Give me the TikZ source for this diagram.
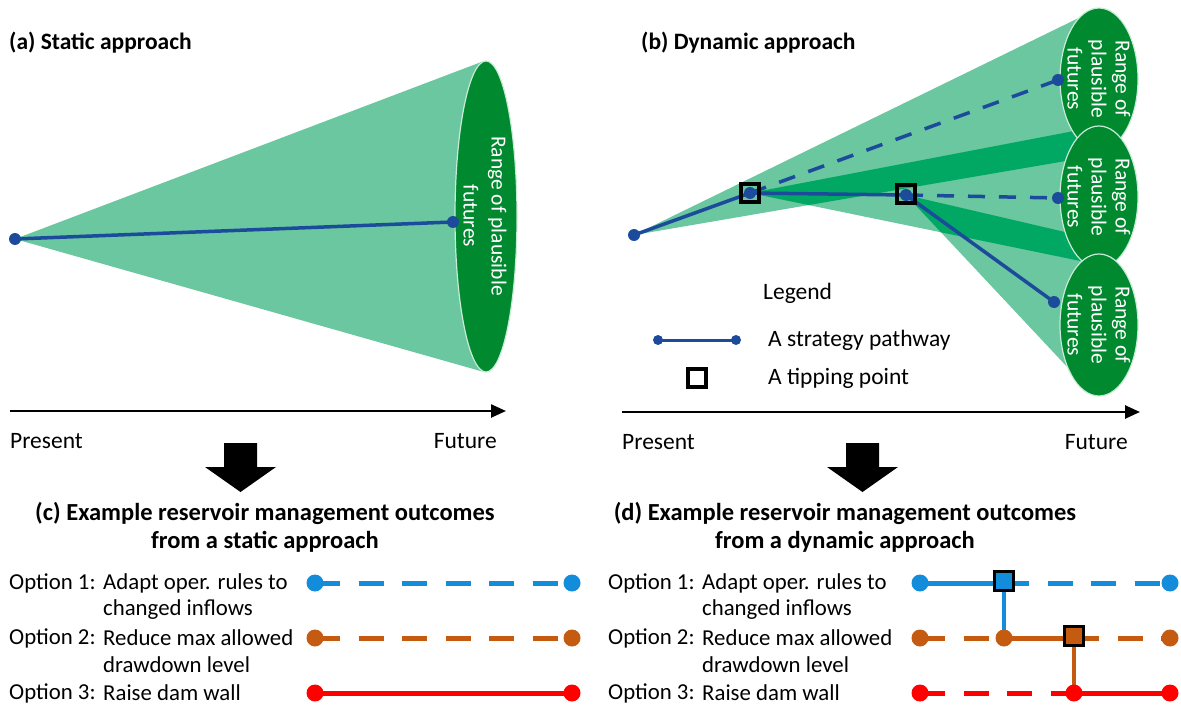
\documentclass[tikz,border=0pt]{standalone}
\usepackage{fontspec}
\setmainfont{Carlito}
\usetikzlibrary{arrows.meta}
\definecolor{conegreen}{RGB}{106,199,160}
\definecolor{overgreen}{RGB}{0,168,100}
\definecolor{ellgreen}{RGB}{0,137,46}
\definecolor{ellrim}{RGB}{200,235,215}
\definecolor{pathblue}{RGB}{28,75,155}
\definecolor{optblue}{RGB}{20,140,220}
\definecolor{optorange}{RGB}{197,90,17}
\definecolor{optred}{RGB}{255,0,0}
\pgfdeclarelayer{back}
\pgfdeclarelayer{mid}
\pgfsetlayers{back,mid,main}
\begin{document}
\begin{tikzpicture}[x=1pt,y=-1pt,
  body/.style={font=\fontsize{23.5}{27}\selectfont, inner sep=0pt},
  opt/.style={font=\fontsize{22.8}{27}\selectfont, inner sep=0pt, anchor=west},
  ttl/.style={font=\fontsize{23.5}{28}\selectfont\bfseries, inner sep=0pt, align=center},
  ttlc/.style={font=\fontsize{24.5}{28}\selectfont\bfseries, inner sep=0pt, align=center},
  elltext/.style={font=\fontsize{21.5}{#1}\selectfont, text=white, align=center, rotate=-90, inner sep=0pt},
  ellfill/.style={fill=ellgreen, draw=ellrim, line width=1.2pt},
  bdot/.style={circle, fill=pathblue, inner sep=0pt, minimum size=12pt},
  bpath/.style={draw=pathblue, line width=3.5pt},
  bdash/.style={bpath, dash pattern=on 17pt off 14pt},
  tipbox/.style={draw=black, line width=4pt, minimum size=18pt, inner sep=0pt},
  odot/.style={circle, fill=#1, inner sep=0pt, minimum size=17pt},
  osq/.style={draw=black, fill=#1, line width=3pt, minimum size=19pt, inner sep=0pt},
  oline/.style={draw=#1, line width=5pt},
  odash/.style={dash pattern=on 25pt off 18.5pt},
  axis/.style={draw=black, line width=2.5pt, -{Triangle[length=15pt,width=13pt]}},
  bigarrow/.style={fill=black}
]
\useasboundingbox (0,0) rectangle (1181,706);

% ---------------- (a) static ----------------
\begin{pgfonlayer}{back}
\fill[conegreen] (15,239) -- (484,61) -- (484,372) -- cycle;
\path[ellfill] (486,216.5) ellipse [x radius=31, y radius=155.5];
\end{pgfonlayer}
\node[elltext=28] (ea) at (485,216) {Range of plausible\\futures};
\node[ttl, anchor=west] (ta) at (9,43) {(a) Static approach};
\node[bdot] (a0) at (15,239) {};
\node[bdot] (a1) at (453,222) {};
\begin{pgfonlayer}{mid}
\draw[bpath] (a0.center) -- (a1.center);
\end{pgfonlayer}

% axis (a)
\coordinate (ax0) at (10,411);
\coordinate (ax1) at (506,411);
\draw[axis] (ax0) -- (ax1);
\node[body, anchor=west] (pa) at (10,441) {Present};
\node[body, anchor=east] (fa) at (497,441) {Future};

% ---------------- (b) dynamic ----------------
\begin{pgfonlayer}{back}
\fill[conegreen] (634,235) -- (1095,10) -- (1095,156) -- cycle;
\fill[conegreen] (750,193) -- (1095,127) -- (1095,264) -- cycle;
\fill[conegreen] (906,195) -- (1095,239) -- (1085,386) -- cycle;
\begin{scope}
\clip (634,235) -- (1095,10) -- (1095,156) -- cycle;
\fill[overgreen] (750,193) -- (1095,127) -- (1095,264) -- cycle;
\end{scope}
\begin{scope}
\clip (750,193) -- (1095,127) -- (1095,264) -- cycle;
\fill[overgreen] (906,195) -- (1095,239) -- (1085,386) -- cycle;
\end{scope}
\path[ellfill] (1099,79) ellipse [x radius=39, y radius=71];
\path[ellfill] (1099,197) ellipse [x radius=39, y radius=71];
\path[ellfill] (1099,325) ellipse [x radius=39, y radius=71];
\end{pgfonlayer}
\node[elltext=24] (e1) at (1099,79) {Range of\\plausible\\futures};
\node[elltext=24] (e2) at (1099,197) {Range of\\plausible\\futures};
\node[elltext=24] (e3) at (1099,325) {Range of\\plausible\\futures};

\node[ttl, anchor=west] (tb) at (641,43) {(b) Dynamic approach};

\node[bdot] (p0) at (634,235) {};
\node[bdot] (p1) at (750,193) {};
\node[bdot] (p2) at (906,195) {};
\node[bdot] (p3) at (1058,80) {};
\node[bdot] (p4) at (1058,198) {};
\node[bdot] (p5) at (1054,302) {};
\begin{pgfonlayer}{mid}
\draw[bpath] (p0.center) -- (p1.center);
\draw[bpath] (p1.center) -- (p2.center);
\draw[bdash] (p1.center) -- (p3.center);
\draw[bdash] (p2.center) -- (p4.center);
\draw[bpath] (p2.center) -- (p5.center);
\end{pgfonlayer}
\node[tipbox] (tp1) at (750,193) {};
\node[tipbox] (tp2) at (906,194) {};

% legend
\node[body, anchor=west] (lg) at (763,293) {Legend};
\node[bdot, minimum size=10pt] (l1) at (658,340) {};
\node[bdot, minimum size=10pt] (l2) at (736,340) {};
\begin{pgfonlayer}{mid}
\draw[bpath, line width=3pt] (l1.center) -- (l2.center);
\end{pgfonlayer}
\node[body, anchor=west] (lt1) at (768,340) {A strategy pathway};
\node[tipbox] (lsq) at (697,378) {};
\node[body, anchor=west] (lt2) at (768,378) {A tipping point};

% axis (b)
\coordinate (bx0) at (622,412);
\coordinate (bx1) at (1140,412);
\draw[axis] (bx0) -- (bx1);
\node[body, anchor=west] (pb) at (622,442) {Present};
\node[body, anchor=east] (fb) at (1128,442) {Future};

% ---------------- big arrows ----------------
\fill[bigarrow] (224,443) -- (257,443) -- (257,467) -- (276,467) -- (240.5,492) -- (205,467) -- (224,467) -- cycle;
\fill[bigarrow] (846,443) -- (879,443) -- (879,467) -- (898,467) -- (862.5,492) -- (827,467) -- (846,467) -- cycle;

% ---------------- (c) ----------------
\node[ttlc] (tc) at (265,527) {(c) Example reservoir management outcomes\\from a static approach};
\node[opt] (c1l) at (9,583) {Option 1:};
\node[opt] (c1t) at (103,583) {Adapt oper. rules to};
\node[opt] (c1u) at (103,610) {changed inflows};
\node[opt] (c2l) at (9,638) {Option 2:};
\node[opt] (c2t) at (103,638) {Reduce max allowed};
\node[opt] (c2u) at (103,665) {drawdown level};
\node[opt] (c3l) at (9,693) {Option 3:};
\node[opt] (c3t) at (103,693) {Raise dam wall};

\node[odot=optblue] (c1a) at (315,583) {};
\node[odot=optblue] (c1b) at (572,583) {};
\node[odot=optorange] (c2a) at (315,638) {};
\node[odot=optorange] (c2b) at (572,638) {};
\node[odot=optred] (c3a) at (315,693) {};
\node[odot=optred] (c3b) at (572,693) {};
\begin{pgfonlayer}{mid}
\draw[oline=optblue, odash] (c1a.center) -- (c1b.center);
\draw[oline=optorange, odash] (c2a.center) -- (c2b.center);
\draw[oline=optred] (c3a.center) -- (c3b.center);
\end{pgfonlayer}

% ---------------- (d) ----------------
\node[ttlc] (td) at (845,527) {(d) Example reservoir management outcomes\\from a dynamic approach};
\node[opt] (d1l) at (608,583) {Option 1:};
\node[opt] (d1t) at (702,583) {Adapt oper. rules to};
\node[opt] (d1u) at (702,610) {changed inflows};
\node[opt] (d2l) at (608,638) {Option 2:};
\node[opt] (d2t) at (702,638) {Reduce max allowed};
\node[opt] (d2u) at (702,665) {drawdown level};
\node[opt] (d3l) at (608,693) {Option 3:};
\node[opt] (d3t) at (702,693) {Raise dam wall};

\node[odot=optblue] (d1a) at (920,583) {};
\node[osq=optblue] (s1) at (1004,581) {};
\node[odot=optblue] (d1c) at (1170,583) {};
\node[odot=optorange] (d2a) at (920,638) {};
\node[odot=optorange] (d2b) at (1004,638) {};
\node[osq=optorange] (s2) at (1074,636) {};
\node[odot=optorange] (d2d) at (1170,638) {};
\node[odot=optred] (d3a) at (920,693) {};
\node[odot=optred] (d3b) at (1074,693) {};
\node[odot=optred] (d3c) at (1170,693) {};
\begin{pgfonlayer}{mid}
\draw[oline=optblue] (d1a.center) -- (d1a.center -| s1.center);
\draw[oline=optblue, odash] (d1a.center -| s1.center) -- (d1c.center);
\draw[oline=optblue, line width=4pt] (s1.center) -- (d2b.center);
\draw[oline=optorange, odash] (d2a.center) -- (d2b.center);
\draw[oline=optorange] (d2b.center) -- (d2b.center -| s2.center);
\draw[oline=optorange, odash] (d2b.center -| s2.center) -- (d2d.center);
\draw[oline=optorange, line width=4pt] (s2.center) -- (d3b.center);
\draw[oline=optred, odash] (d3a.center) -- (d3b.center);
\draw[oline=optred] (d3b.center) -- (d3c.center);
\end{pgfonlayer}
\end{tikzpicture}
\end{document}
